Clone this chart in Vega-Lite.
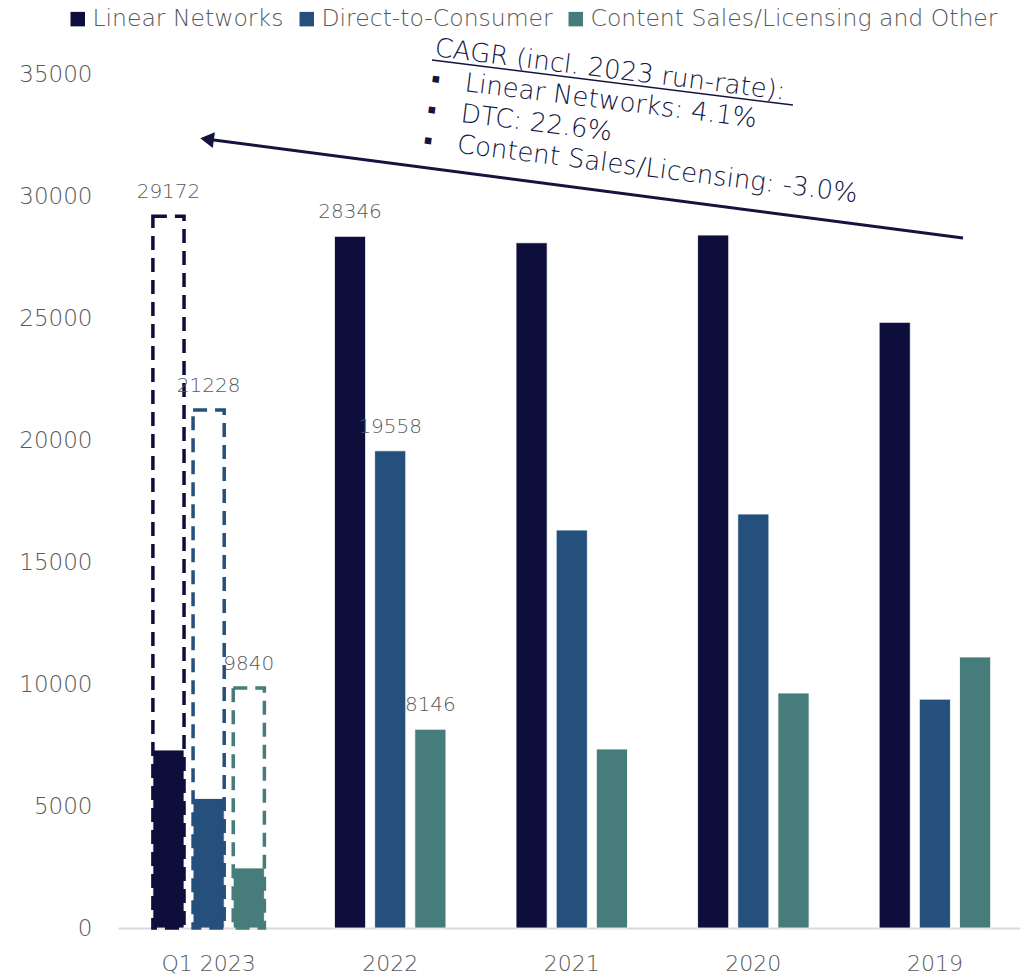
{
  "$schema": "https://vega.github.io/schema/vega-lite/v6.json",
  "width": 902,
  "height": 854,
  "autosize": {"type": "none"},
  "padding": {"left": 118, "top": 74, "right": 0, "bottom": 50},
  "background": "white",
  "config": {"view": {"stroke": null}, "font": "DejaVu Sans"},
  "datasets": {
    "bars": [
      {"period": "Q1 2023", "series": "Linear Networks", "value": 7293},
      {"period": "Q1 2023", "series": "Direct-to-Consumer", "value": 5307},
      {"period": "Q1 2023", "series": "Content Sales/Licensing and Other", "value": 2460},
      {"period": "2022", "series": "Linear Networks", "value": 28346},
      {"period": "2022", "series": "Direct-to-Consumer", "value": 19558},
      {"period": "2022", "series": "Content Sales/Licensing and Other", "value": 8146},
      {"period": "2021", "series": "Linear Networks", "value": 28083},
      {"period": "2021", "series": "Direct-to-Consumer", "value": 16310},
      {"period": "2021", "series": "Content Sales/Licensing and Other", "value": 7335},
      {"period": "2020", "series": "Linear Networks", "value": 28400},
      {"period": "2020", "series": "Direct-to-Consumer", "value": 16966},
      {"period": "2020", "series": "Content Sales/Licensing and Other", "value": 9630},
      {"period": "2019", "series": "Linear Networks", "value": 24822},
      {"period": "2019", "series": "Direct-to-Consumer", "value": 9380},
      {"period": "2019", "series": "Content Sales/Licensing and Other", "value": 11106}
    ],
    "runrate": [
      {"period": "Q1 2023", "series": "Linear Networks", "runrate": 29172},
      {"period": "Q1 2023", "series": "Direct-to-Consumer", "runrate": 21228},
      {"period": "Q1 2023", "series": "Content Sales/Licensing and Other", "runrate": 9840}
    ]
  },
  "layer": [
    {
      "encoding": {
        "x": {
          "field": "period", "type": "nominal",
          "sort": ["Q1 2023", "2022", "2021", "2020", "2019"],
          "scale": {"domain": ["Q1 2023", "2022", "2021", "2020", "2019"], "paddingInner": 0.386, "paddingOuter": 0.177, "align": 0.543},
          "axis": {"title": null, "domainColor": "#d9d9d9", "domainWidth": 2, "ticks": false, "tickSize": 0, "labelFontSize": 22, "labelFontWeight": 300, "labelColor": "#595959", "labelPadding": 25, "labelAngle": 0}
        },
        "xOffset": {
          "field": "series", "type": "nominal",
          "scale": {"domain": ["Linear Networks", "Direct-to-Consumer", "Content Sales/Licensing and Other"], "paddingInner": 0.225, "paddingOuter": 0}
        }
      },
      "layer": [
        {
          "data": {"name": "bars"},
          "mark": {"type": "bar", "stroke": "white", "strokeWidth": 0.8},
          "encoding": {
            "y": {
              "field": "value", "type": "quantitative",
              "scale": {"domain": [0, 35000], "nice": false},
              "axis": {"title": null, "domain": false, "ticks": false, "tickSize": 0, "grid": false, "labelFontSize": 23, "labelFontWeight": 300, "labelColor": "#595959", "labelPadding": 26, "values": [0, 5000, 10000, 15000, 20000, 25000, 30000, 35000], "format": "d"}
            },
            "color": {
              "field": "series", "type": "nominal",
              "scale": {"domain": ["Linear Networks", "Direct-to-Consumer", "Content Sales/Licensing and Other"], "range": ["#0e0e3c", "#24507b", "#467c79"]},
              "legend": {"title": null, "orient": "none", "legendX": -52, "legendY": -67, "direction": "horizontal", "symbolType": "square", "symbolSize": 210, "symbolStrokeWidth": 0, "labelFontSize": 23.5, "labelFontWeight": 300, "labelColor": "#595959", "labelLimit": 600, "columnPadding": 11, "labelOffset": 3}
            }
          }
        },
        {
          "data": {"name": "runrate"},
          "mark": {"type": "bar", "filled": false, "fill": null, "strokeDash": [14, 8], "strokeWidth": 3.5},
          "encoding": {
            "y": {"field": "runrate", "type": "quantitative"},
            "stroke": {
              "field": "series", "type": "nominal",
              "scale": {"domain": ["Linear Networks", "Direct-to-Consumer", "Content Sales/Licensing and Other"], "range": ["#0e0e3c", "#24507b", "#467c79"]},
              "legend": null
            }
          }
        },
        {
          "data": {"name": "runrate"},
          "mark": {"type": "text", "dy": -18, "baseline": "alphabetic", "align": "center", "fontSize": 20, "fontWeight": 300, "color": "#595959"},
          "encoding": {
            "y": {"field": "runrate", "type": "quantitative"},
            "text": {"field": "runrate", "type": "quantitative", "format": "d"}
          }
        },
        {
          "data": {"name": "bars"},
          "transform": [{"filter": "datum.period == '2022'"}],
          "mark": {"type": "text", "dy": -18, "baseline": "alphabetic", "align": "center", "fontSize": 20, "fontWeight": 300, "color": "#595959"},
          "encoding": {
            "y": {"field": "value", "type": "quantitative"},
            "text": {"field": "value", "type": "quantitative", "format": "d"}
          }
        }
      ]
    },
    {
      "data": {"values": [{}]},
      "layer": [
        {
          "mark": {"type": "rule", "color": "#14143f", "strokeWidth": 3},
          "encoding": {
            "x": {"datum": 0.9368, "type": "quantitative", "scale": {"domain": [0, 1], "nice": false}, "axis": null},
            "x2": {"datum": 0.102},
            "y": {"datum": 28277, "type": "quantitative"},
            "y2": {"datum": 32317}
          }
        },
        {
          "mark": {"type": "point", "shape": "triangle-left", "angle": 7.5, "filled": true, "size": 250, "color": "#14143f", "opacity": 1},
          "encoding": {
            "x": {"datum": 0.0987, "type": "quantitative", "scale": {"domain": [0, 1], "nice": false}, "axis": null},
            "y": {"datum": 32329, "type": "quantitative"}
          }
        },
        {
          "mark": {"type": "rule", "color": "#14143f", "strokeWidth": 1.5},
          "encoding": {
            "x": {"datum": 0.3481, "type": "quantitative", "scale": {"domain": [0, 1], "nice": false}, "axis": null},
            "x2": {"datum": 0.7483},
            "y": {"datum": 35571, "type": "quantitative"},
            "y2": {"datum": 33727}
          }
        },
        {
          "mark": {"type": "text", "text": "CAGR (incl. 2023 run-rate):\n▪\u00a0\u00a0\u00a0Linear Networks: 4.1%\n▪\u00a0\u00a0\u00a0DTC: 22.6%\n▪\u00a0\u00a0\u00a0Content Sales/Licensing: -3.0%", "lineBreak": "\n", "lineHeight": 31, "angle": 7.1, "align": "left", "baseline": "alphabetic", "fontSize": 26, "fontWeight": 300, "color": "#14143f"},
          "encoding": {
            "x": {"datum": 0.3503, "type": "quantitative", "scale": {"domain": [0, 1], "nice": false}, "axis": null},
            "y": {"datum": 35735, "type": "quantitative"}
          }
        }
      ]
    }
  ],
  "resolve": {"scale": {"x": "independent"}}
}
